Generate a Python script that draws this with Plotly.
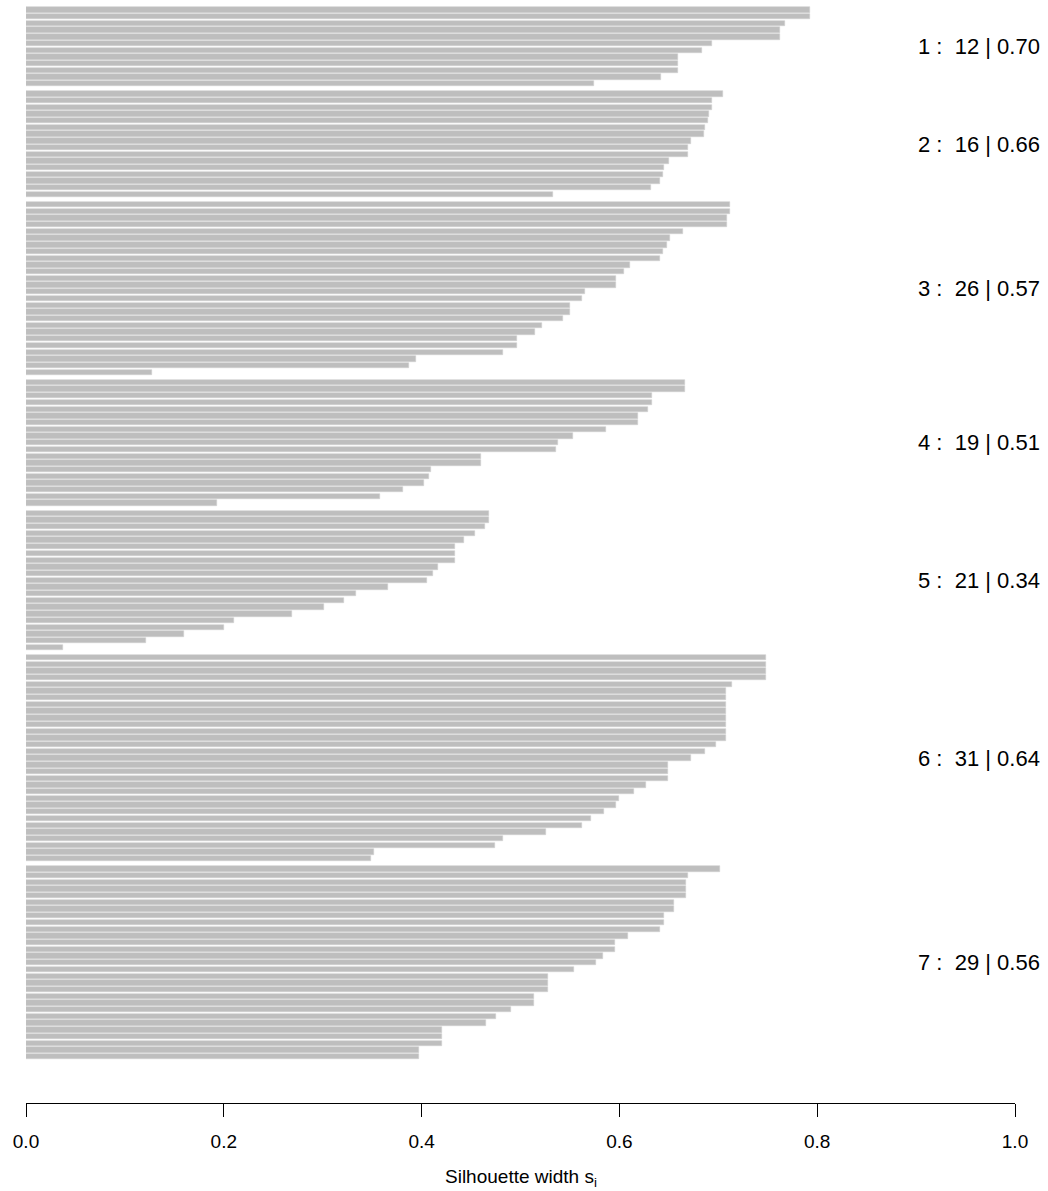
import plotly.graph_objects as go

# Silhouette widths per cluster (sorted within cluster, descending)
cluster_ids = [1, 2, 3, 4, 5, 6, 7]
c1 = [0.793, 0.793, 0.767, 0.762, 0.762, 0.694, 0.684, 0.659, 0.659, 0.659, 0.642, 0.574]
c2 = [0.705, 0.694, 0.694, 0.691, 0.690, 0.687, 0.686, 0.672, 0.669, 0.669, 0.650, 0.645,
      0.644, 0.641, 0.632, 0.533]
c3 = [0.712, 0.712, 0.709, 0.709, 0.664, 0.651, 0.648, 0.644, 0.641, 0.611, 0.605, 0.597,
      0.597, 0.565, 0.562, 0.550, 0.550, 0.543, 0.522, 0.515, 0.496, 0.496, 0.482, 0.394,
      0.387, 0.127]
c4 = [0.666, 0.666, 0.633, 0.633, 0.629, 0.619, 0.619, 0.586, 0.553, 0.538, 0.536, 0.460,
      0.460, 0.409, 0.407, 0.402, 0.381, 0.358, 0.193]
c5 = [0.468, 0.468, 0.464, 0.454, 0.443, 0.434, 0.434, 0.434, 0.417, 0.412, 0.405, 0.366,
      0.334, 0.322, 0.301, 0.269, 0.210, 0.200, 0.160, 0.121, 0.037]
c6 = [0.748, 0.748, 0.748, 0.748, 0.714, 0.708, 0.708, 0.708, 0.708, 0.708, 0.708, 0.708,
      0.708, 0.698, 0.687, 0.672, 0.649, 0.649, 0.649, 0.627, 0.615, 0.600, 0.597, 0.584,
      0.571, 0.562, 0.526, 0.482, 0.474, 0.352, 0.349]
c7 = [0.702, 0.669, 0.667, 0.667, 0.667, 0.655, 0.655, 0.645, 0.645, 0.641, 0.609, 0.596,
      0.596, 0.583, 0.576, 0.554, 0.528, 0.528, 0.528, 0.514, 0.514, 0.490, 0.475, 0.465,
      0.421, 0.421, 0.421, 0.397, 0.397]
cluster_sizes = [12, 16, 26, 19, 21, 31, 29]
cluster_means = ["0.70", "0.66", "0.57", "0.51", "0.34", "0.64", "0.56"]
x_tick_vals = [0.0, 0.2, 0.4, 0.6, 0.8, 1.0]
x_tick_text = ["0.0", "0.2", "0.4", "0.6", "0.8", "1.0"]
x_title = "Silhouette width s<sub>i</sub>"

clusters = [c1, c2, c3, c4, c5, c6, c7]

# barplot-like positions: bar width 1, gap of 0.5 between clusters
xs, ys, centers = [], [], []
p = 0.0
for ci, vals in enumerate(clusters):
    if ci > 0:
        p += 0.5
    start = p
    for v in vals:
        xs.append(v)
        ys.append(p + 0.5)
        p += 1.0
    centers.append((start + p) / 2)

fig = go.Figure()
fig.add_trace(go.Bar(
    x=xs, y=ys, orientation="h", base=0, width=0.8,
    marker=dict(color="#BEBEBE", line=dict(color="#D0D0D0", width=0.6)),
    hoverinfo="x",
))

font = "Liberation Sans, Arial, sans-serif"
for cid, n, m, c in zip(cluster_ids, cluster_sizes, cluster_means, centers):
    fig.add_annotation(
        x=1.0273, xref="paper", y=c, yref="y", xanchor="right", yanchor="middle",
        text=f"{cid} :\u00a0\u00a0{n}\u00a0|\u00a0{m}", showarrow=False,
        font=dict(family=font, size=22, color="#000000"),
    )

fig.add_annotation(
    x=0.5, xref="paper", y=0, yref="paper", yshift=-75, yanchor="middle",
    text=x_title, showarrow=False, font=dict(family=font, size=19, color="#000000"),
)

fig.update_layout(
    width=1048, height=1191,
    margin=dict(l=26, r=33, t=0, b=88),
    paper_bgcolor="white", plot_bgcolor="white",
    showlegend=False, bargap=0,
    font=dict(family=font, size=19, color="#000000"),
    xaxis=dict(
        range=[0, 1], tickvals=x_tick_vals, ticktext=x_tick_text,
        showline=True, linecolor="#000000", linewidth=1,
        ticks="outside", ticklen=13, tickwidth=1, tickcolor="#000000",
        showgrid=False, zeroline=False, ticklabelstandoff=8,
        tickfont=dict(family=font, size=19, color="#000000"),
    ),
    yaxis=dict(
        range=[163.4, -0.99], showticklabels=False, showgrid=False,
        zeroline=False, showline=False, ticks="",
    ),
)

fig.write_html(
    "out.html",
    config={"displayModeBar": False},
    post_script="document.body.style.margin='0';document.body.style.padding='0';",
)
